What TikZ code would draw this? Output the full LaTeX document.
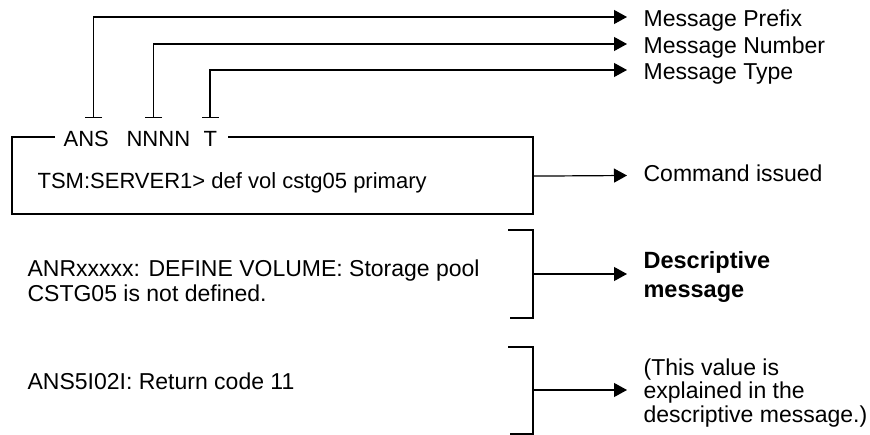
\documentclass[tikz,border=0pt]{standalone}
\usepackage{fontspec}
\setmainfont{Liberation Sans}
\usetikzlibrary{arrows.meta}
\begin{document}
\begin{tikzpicture}[x=1pt,y=-1pt,line width=1.2pt,
  txt/.style={font=\fontsize{22}{25}\selectfont, inner sep=0pt, anchor=base west},
  arr/.style={-{Triangle[length=13pt,width=14pt]}},
  barred/.style={{Bar[width=17pt]}-{Triangle[length=13pt,width=14pt]}},
  lab/.style={font=\fontsize{23}{25}\selectfont, anchor=west, inner xsep=16pt, inner ysep=0pt, text depth=0pt},
  mlab/.style={anchor=base west, inner xsep=16pt, inner ysep=0pt, align=left}
]
\useasboundingbox[fill=white] (0,0) rectangle (870,435);

% right-hand labels (single line)
\node[lab, text height=20pt] (pref) at (627,17) {Message Prefix};
\node[lab, text height=20pt] (num) at (627,44) {Message Number};
\node[lab, text height=20pt] (mtype) at (627,70) {Message Type};
\node[lab, text height=13pt] (cmd) at (627,175.5) {Command issued};

% right-hand labels (multi line; base anchor = last line)
\node[mlab, font=\fontsize{23.5}{29}\selectfont\bfseries] (desc) at (627,298) {Descriptive\\message};
\node[mlab, font=\fontsize{23}{23.5}\selectfont] (expl) at (627,422) {(This value is\\explained in the\\descriptive message.)};

% command box
\draw (55,137) -| (12,214) -| (533,137) -- (228,137);
\node[minimum width=521pt, minimum height=77pt, inner sep=0pt, anchor=north west] (box) at (12,137) {};
\node[txt] (ans) at (63,147) {ANS};
\node[txt] (nnnn) at (126,147) {NNNN};
\node[txt] (tt) at (203,147) {T};
\node[txt] (tsm) at (37,189) {TSM:SERVER1> def vol cstg05 primary};

% header connectors
\coordinate (pa) at (93.5,118);
\coordinate (pn) at (153.5,118);
\coordinate (pt) at (210,118);
\draw[barred] (pa) |- (pref.west);
\draw[barred] (pn) |- (num.west);
\draw[barred] (pt) |- (mtype.west);

\draw[arr] (box.east) -- (cmd.west);

% message lines
\node[txt, align=left, font=\fontsize{23}{25}\selectfont] (anr) at (27,302) {ANRxxxxx: DEFINE VOLUME: Storage pool\\CSTG05 is not defined.};
\node[txt, font=\fontsize{23}{25}\selectfont] (ret) at (27,389) {ANS5I02I: Return code 11};

% brackets
\draw (508,230) -| (533,318) -- (510,318);
\coordinate (b1) at (533,274);
\draw[arr] (b1) -- (b1 -| desc.west);

\draw (508,347) -| (533,434) -- (510,434);
\coordinate (b2) at (533,390);
\draw[arr] (b2) -- (b2 -| expl.west);
\end{tikzpicture}
\end{document}
